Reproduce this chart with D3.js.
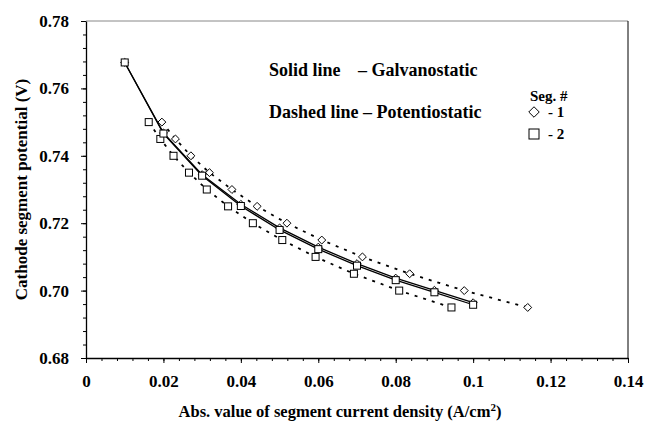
<!DOCTYPE html>
<head>
  <meta charset="utf-8" />
  <script src="https://d3js.org/d3.v7.min.js"></script>
  <style>
    body { margin: 0; background: #fff; }
    text { font-family: "Liberation Serif", "Times New Roman", serif; font-weight: bold; }
  </style>
</head>
<body>
<script>
// galvanostatic runs (solid lines)
var galvI = [0.01, 0.02, 0.03, 0.04, 0.05, 0.06, 0.07, 0.08, 0.09, 0.10];
var galvSeg1 = [0.7677, 0.7468, 0.7344, 0.7256, 0.7186, 0.7129, 0.7080, 0.7037, 0.7001, 0.6964];
var galvSeg2 = [0.7677, 0.7466, 0.7341, 0.7251, 0.7180, 0.7123, 0.7074, 0.7031, 0.6995, 0.6958];

// potentiostatic runs (dashed lines)
var potE = [0.750, 0.745, 0.740, 0.735, 0.730, 0.725, 0.720, 0.715, 0.710, 0.705, 0.700, 0.695];
var potSeg1 = [0.0196, 0.0231, 0.0271, 0.0319, 0.0377, 0.0442, 0.0519, 0.0609, 0.0714, 0.0836, 0.0977, 0.1141];
var potSeg2 = [0.0162, 0.0192, 0.0226, 0.0266, 0.0312, 0.0367, 0.0431, 0.0507, 0.0593, 0.0692, 0.0809, 0.0944];

var xTicks = [0, 0.02, 0.04, 0.06, 0.08, 0.1, 0.12, 0.14];
var yTicks = [0.68, 0.70, 0.72, 0.74, 0.76, 0.78];

var width = 646, height = 427;
var mLeft = 86, mRight = 628, mTop = 21, mBottom = 358;

var svg = d3.select("body").append("svg")
  .attr("width", width).attr("height", height);

var x = d3.scaleLinear().domain([0, 0.14]).range([mLeft, mRight]);
var y = d3.scaleLinear().domain([0.68, 0.78]).range([mBottom, mTop]);

// plot frame: top grey, right black
svg.append("line").attr("x1", mLeft).attr("x2", mRight).attr("y1", mTop).attr("y2", mTop)
  .attr("stroke", "#888").attr("stroke-width", 1);
svg.append("line").attr("x1", mRight).attr("x2", mRight).attr("y1", mTop).attr("y2", mBottom)
  .attr("stroke", "#000").attr("stroke-width", 1);

// minor ticks every 0.004
var xMinor = d3.range(0, 36).map(function (i) { return +(i * 0.004).toFixed(3); }).filter(function (v) { return v <= 0.14; });
var yMinor = d3.range(0, 26).map(function (i) { return +(0.68 + i * 0.004).toFixed(3); });

svg.append("g").attr("transform", "translate(0," + mBottom + ")")
  .call(d3.axisBottom(x).tickValues(xMinor).tickSize(3).tickFormat(""))
  .call(function (g) { g.select(".domain").remove(); });
svg.append("g").attr("transform", "translate(" + mLeft + ",0)")
  .call(d3.axisLeft(y).tickValues(yMinor).tickSize(3).tickFormat(""))
  .call(function (g) { g.select(".domain").remove(); });

svg.append("g").attr("transform", "translate(0," + mBottom + ")")
  .call(d3.axisBottom(x).tickValues(xTicks).tickSize(5).tickSizeOuter(0).tickPadding(12)
    .tickFormat(function (d) { return String(d); }));
svg.append("g").attr("transform", "translate(" + mLeft + ",0)")
  .call(d3.axisLeft(y).tickValues(yTicks).tickSize(5).tickSizeOuter(0).tickPadding(12)
    .tickFormat(d3.format(".2f")));

svg.selectAll(".tick text").style("font-size", "17px").attr("fill", "#000")
  .style("font-family", "Liberation Serif").style("font-weight", "bold");
svg.selectAll(".domain").attr("stroke-width", 1.3);

// axis titles
svg.append("text").attr("x", 340).attr("y", 417).attr("text-anchor", "middle")
  .style("font-size", "16.5px")
  .html('Abs. value of segment current density (A/cm<tspan dy="-6" font-size="11px">2</tspan><tspan dy="6">)</tspan>');
svg.append("text").attr("transform", "translate(27," + ((mTop + mBottom) / 2) + ") rotate(-90)")
  .attr("text-anchor", "middle").style("font-size", "17px")
  .text("Cathode segment potential (V)");

// lines
var line = d3.line().x(function (d) { return x(d[0]); }).y(function (d) { return y(d[1]); });
var g1 = galvI.map(function (v, i) { return [v, galvSeg1[i]]; });
var g2 = galvI.map(function (v, i) { return [v, galvSeg2[i]]; });
var p1 = potSeg1.map(function (v, i) { return [v, potE[i]]; });
var p2 = potSeg2.map(function (v, i) { return [v, potE[i]]; });

[p1, p2].forEach(function (d) {
  svg.append("path").attr("d", line(d)).attr("fill", "none")
    .attr("stroke", "#000").attr("stroke-width", 1.8).attr("stroke-dasharray", "3,6");
});
[g1, g2].forEach(function (d) {
  svg.append("path").attr("d", line(d)).attr("fill", "none")
    .attr("stroke", "#000").attr("stroke-width", 1.3);
});

var diamond = d3.symbol().type(d3.symbolDiamond2).size(40);
function drawDiamonds(data) {
  svg.append("g").selectAll("path").data(data).join("path")
    .attr("d", diamond)
    .attr("transform", function (d) { return "translate(" + x(d[0]) + "," + y(d[1]) + ")"; })
    .attr("fill", "#fff").attr("stroke", "#000").attr("stroke-width", 1);
}
function drawSquares(data) {
  svg.append("g").selectAll("rect").data(data).join("rect")
    .attr("x", function (d) { return x(d[0]) - 3.5; })
    .attr("y", function (d) { return y(d[1]) - 3.5; })
    .attr("width", 7).attr("height", 7)
    .attr("fill", "#fff").attr("stroke", "#000").attr("stroke-width", 1);
}
drawDiamonds(p1);
drawSquares(p2);
drawDiamonds(g1);
drawSquares(g2);

// annotation
svg.append("text").attr("x", 269).attr("y", 76).style("font-size", "18px").text("Solid line");
svg.append("text").attr("x", 358).attr("y", 76).style("font-size", "18px").text("\u2013 Galvanostatic");
svg.append("text").attr("x", 269).attr("y", 118).style("font-size", "18px").text("Dashed line \u2013 Potentiostatic");

// legend
svg.append("text").attr("x", 530).attr("y", 101).style("font-size", "15px").text("Seg. #");
svg.append("path").attr("d", d3.symbol().type(d3.symbolDiamond2).size(70)())
  .attr("transform", "translate(534,112)").attr("fill", "#fff").attr("stroke", "#000");
svg.append("rect").attr("x", 529).attr("y", 129).attr("width", 10).attr("height", 10)
  .attr("fill", "#fff").attr("stroke", "#000");
svg.append("text").attr("x", 548).attr("y", 117).style("font-size", "15px").text("- 1");
svg.append("text").attr("x", 548).attr("y", 139).style("font-size", "15px").text("- 2");
</script>
</body>
